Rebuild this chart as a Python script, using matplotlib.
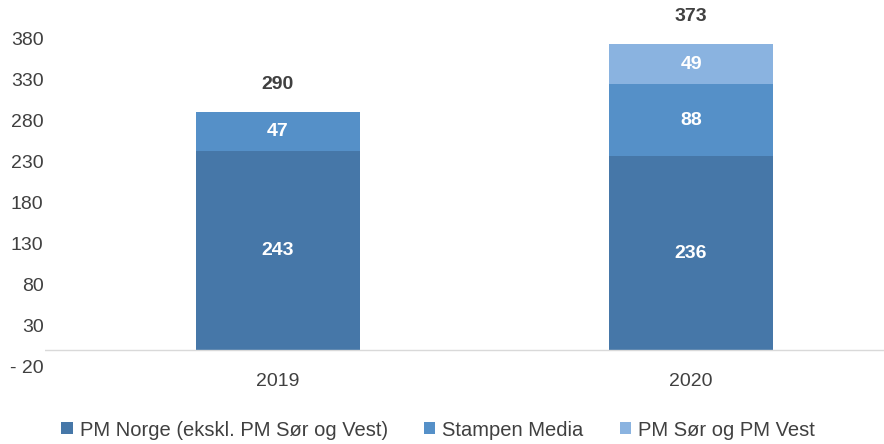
import matplotlib.pyplot as plt
import numpy as np

plt.rcParams['font.family'] = ['Liberation Sans', 'DejaVu Sans']

years = ['2019', '2020']
pm_norge = [243, 236]
stampen = [47, 88]
pm_sor_vest = [0, 49]
totals = [290, 373]
series_names = ['PM Norge (ekskl. PM Sør og Vest)', 'Stampen Media', 'PM Sør og PM Vest']
yticks = [-20, 30, 80, 130, 180, 230, 280, 330, 380]

colors = ['#4677A8', '#5590C8', '#8AB3E0']

fig = plt.figure(figsize=(8.84, 4.44), dpi=100)
# 0 at y=350 px, 0.82 px per unit
ax = fig.add_axes([45 / 884, (444 - 366.4) / 444, 839 / 884, 366.4 / 444])

x = np.arange(len(years))
w = 0.395
bottom = np.zeros(len(years))
for vals, name, c in zip([pm_norge, stampen, pm_sor_vest], series_names, colors):
    ax.bar(x, vals, w, bottom=bottom, color=c, label=name)
    for xi, v, b in zip(x, vals, bottom):
        if v > 0:
            ax.text(xi, b + v / 2, str(v), ha='center', va='center',
                    color='white', fontsize=14, fontweight='bold')
    bottom += np.array(vals)

for xi, t in zip(x, totals):
    ax.annotate(str(t), (xi, t), xytext=(0, 20), textcoords='offset points',
                ha='center', va='center', color='#404040', fontsize=14, fontweight='bold')

ax.set_xlim(-0.564, 1.467)
ax.set_ylim(-20, 426.8)
ax.set_yticks(yticks)
ax.set_yticklabels(['- 20' if v < 0 else str(v) for v in yticks])
ax.set_xticks(x)
ax.set_xticklabels(years)
ax.tick_params(axis='both', length=0, labelsize=14, colors='#404040')
ax.tick_params(axis='y', pad=1)
ax.tick_params(axis='x', pad=5)
for s in ax.spines.values():
    s.set_visible(False)
ax.axhline(0, color='#D9D9D9', linewidth=1)

fig.legend(loc='center', bbox_to_anchor=(438 / 884, 1 - 430 / 444), ncol=3, frameon=False,
           fontsize=14.5, handlelength=0.55, handleheight=0.55, handletextpad=0.35,
           columnspacing=1.8, labelcolor='#404040')

fig.savefig('out.png', dpi=100)
